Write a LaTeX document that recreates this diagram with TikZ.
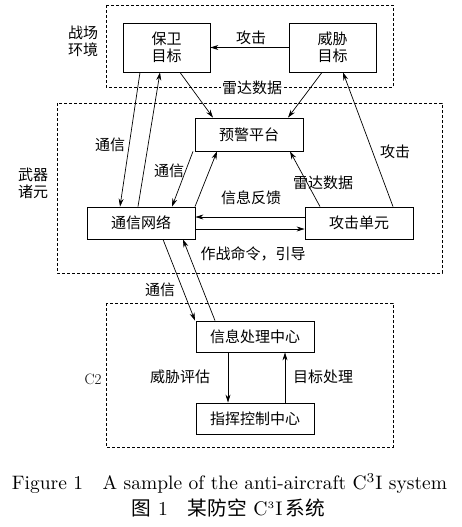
\documentclass[tikz,border=0pt]{standalone}
\usepackage{fontspec}
\newfontfamily\cjk{Noto Sans CJK SC}
\usetikzlibrary{arrows.meta}
\begin{document}
\begin{tikzpicture}[x=1pt,y=-1pt,
  box/.style={draw,line width=0.8pt,inner sep=0pt,font=\cjk\fontsize{15pt}{17pt}\selectfont,align=center},
  lbl/.style={inner sep=1pt,font=\cjk\fontsize{15pt}{17pt}\selectfont,align=center},
  arr/.style={line width=0.7pt,-{Stealth[length=8pt,width=5pt]}},
  dbox/.style={draw,line width=0.6pt,dash pattern=on 3pt off 2pt}]
\useasboundingbox (0,0) rectangle (462,527);
\fill[white] (0,0) rectangle (462,527);
% dashed groups
\draw[dbox] (106,5) rectangle (393,87);
\draw[dbox] (57,103) rectangle (442,273);
\draw[dbox] (106,303) rectangle (393,447);
% boxes
\node[box,minimum width=87pt,minimum height=49pt] (bw) at (166.5,47.5) {保卫\\目标};
\node[box,minimum width=87pt,minimum height=49pt] (wx) at (332.5,47.5) {威胁\\目标};
\node[box,minimum width=108pt,minimum height=33pt] (yj) at (249,134.5) {预警平台};
\node[box,minimum width=108pt,minimum height=32pt] (tx) at (141,223) {通信网络};
\node[box,minimum width=108pt,minimum height=32pt] (gj) at (359,223) {攻击单元};
\node[box,minimum width=118pt,minimum height=31pt] (xx) at (255,336.5) {信息处理中心};
\node[box,minimum width=118pt,minimum height=31pt] (zh) at (255,418.5) {指挥控制中心};
% group labels
\node[lbl] (l1) at (83,41) {战场\\环境};
\node[lbl] (l2) at (33,183) {武器\\诸元};
\node[lbl,font=\fontsize{15pt}{17pt}\selectfont] (l3) at (93,379) {C2};
% connectors
\draw[arr] (wx.west) -- (bw.east);
\draw[arr] ([xshift=-26.5pt]bw.south) -- ([xshift=-21pt]tx.north);
\draw[arr] ([xshift=-3pt]tx.north) -- ([xshift=-6.5pt]bw.south);
\draw[arr] ([xshift=13.5pt]bw.south) -- ([xshift=-36pt]yj.north);
\draw[arr] ([xshift=-10.5pt]wx.south) -- ([xshift=39pt]yj.north);
\draw[arr] ([xshift=34pt]gj.north) -- ([xshift=10.5pt]wx.south);
\draw[arr] ([xshift=-56pt]yj.south) -- ([xshift=31pt]tx.north);
\draw[arr] ([xshift=54pt]tx.north) -- ([xshift=-32pt]yj.south);
\draw[arr] ([xshift=-39pt]gj.north) -- ([xshift=41pt]yj.south);
\draw[arr] ([yshift=6pt]gj.west) -- ([yshift=6pt]tx.east);
\draw[arr] ([yshift=-6pt]tx.east) -- ([yshift=-6pt]gj.west);
\draw[arr] ([xshift=22pt]tx.south) -- ([xshift=-60pt]xx.north);
\draw[arr] ([xshift=-40pt]xx.north) -- ([xshift=42pt]tx.south);
\draw[arr] ([xshift=-27pt]xx.south) -- ([xshift=-27pt]zh.north);
\draw[arr] ([xshift=30pt]zh.north) -- ([xshift=30pt]xx.south);
% connector labels
\node[lbl] (t1) at (251,38) {攻击};
\node[lbl,fill=white] (t2) at (252,88) {雷达数据};
\node[lbl] (t3) at (110,145) {通信};
\node[lbl] (t4) at (169,171) {通信};
\node[lbl] (t5) at (323,183) {雷达数据};
\node[lbl] (t6) at (395,152) {攻击};
\node[lbl] (t7) at (251,198) {信息反馈};
\node[lbl] (t8) at (253,254) {作战命令，引导};
\node[lbl] (t9) at (160,290) {通信};
\node[lbl] (t10) at (180,377) {威胁评估};
\node[lbl] (t11) at (323,377) {目标处理};
% caption
\node[inner sep=0pt] (c1) at (229.5,484) {\resizebox{435pt}{!}{Figure 1\quad A sample of the anti-aircraft C$^3$I system}};
\node[inner sep=0pt] (c2) at (228.5,508) {\resizebox{193pt}{!}{{\cjk 图} 1\quad{\cjk 某防空} C$^{\scriptscriptstyle 3}$I\,{\cjk 系统}}};
\end{tikzpicture}
\end{document}
